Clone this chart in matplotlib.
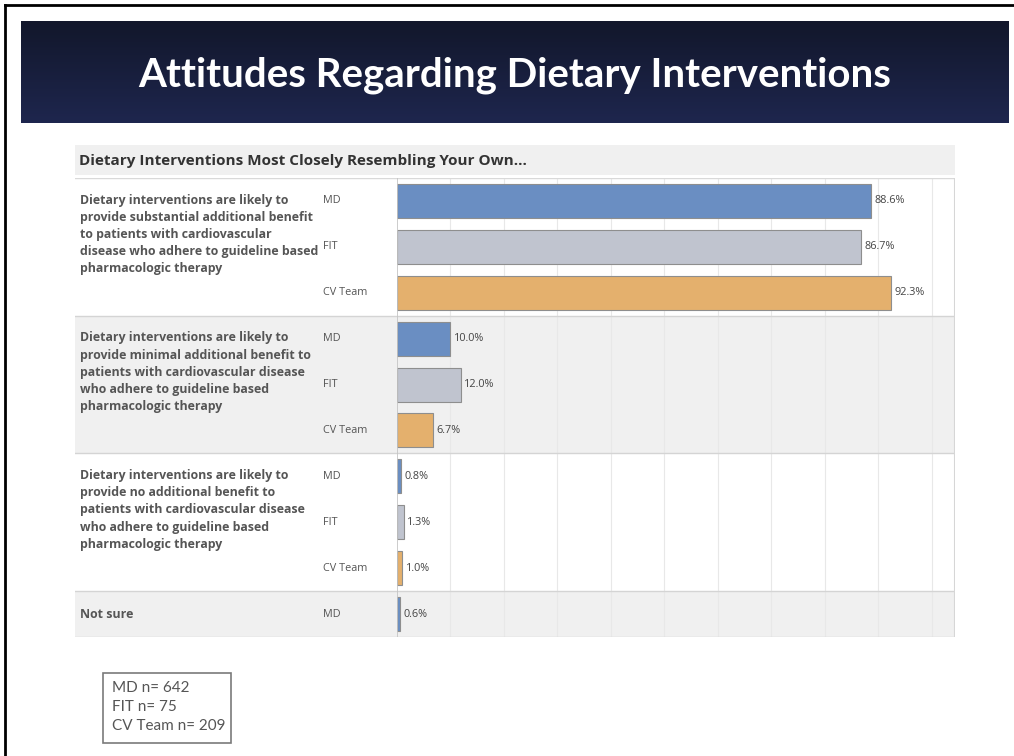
import matplotlib
matplotlib.use("Agg")
import matplotlib.pyplot as plt
import numpy as np
from matplotlib.patches import Rectangle
from matplotlib.lines import Line2D

# ── Data ─────────────────────────────────────────────────────────────────────
questions = [
    "Dietary interventions are likely to\nprovide substantial additional benefit\n"
    "to patients with cardiovascular\ndisease who adhere to guideline based\npharmacologic therapy",
    "Dietary interventions are likely to\nprovide minimal additional benefit to\n"
    "patients with cardiovascular disease\nwho adhere to guideline based\npharmacologic therapy",
    "Dietary interventions are likely to\nprovide no additional benefit to\n"
    "patients with cardiovascular disease\nwho adhere to guideline based\npharmacologic therapy",
    "Not sure",
]
groups = [["MD", "FIT", "CV Team"], ["MD", "FIT", "CV Team"], ["MD", "FIT", "CV Team"], ["MD"]]
values = [[88.6, 86.7, 92.3], [10.0, 12.0, 6.7], [0.8, 1.3, 1.0], [0.6]]
sample_sizes = ["MD n= 642", "FIT n= 75", "CV Team n= 209"]

TITLE = "Attitudes Regarding Dietary Interventions"
SUBTITLE = "Dietary Interventions Most Closely Resembling Your Own..."

COLORS = {"MD": "#6a8ec2", "FIT": "#c0c4cf", "CV Team": "#e4b06d"}
EDGE = "#8e8e8e"
ROW_BG = ["#ffffff", "#f0f0f0"]

# ── Figure helpers (pixel -> figure fraction) ────────────────────────────────
W, H = 1014, 756
fig = plt.figure(figsize=(W / 100, H / 100), dpi=100, facecolor="white")


def fx(px):
    return px / W


def fy(py):
    return 1 - py / H


# slide border
fig.add_artist(Line2D([fx(5), fx(5)], [fy(5), 0], color="black", lw=2))
fig.add_artist(Line2D([fx(5), 1], [fy(5), fy(5)], color="black", lw=2))

# ── Title banner ─────────────────────────────────────────────────────────────
ax_b = fig.add_axes([fx(21), fy(123), fx(1009) - fx(21), fy(21) - fy(123)])
grad = np.linspace(0, 1, 100).reshape(-1, 1)
top = np.array([0x12, 0x17, 0x2b]) / 255
bot = np.array([0x1e, 0x26, 0x4e]) / 255
img = top + (bot - top) * grad[:, :, None]
ax_b.imshow(img, aspect="auto", extent=[0, 1, 0, 1])
ax_b.set_xlim(0, 1)
ax_b.set_ylim(0, 1)
ax_b.axis("off")
ax_b.text(0.5, 0.47, TITLE, color="white", fontsize=29, fontweight="bold",
          family="Lato", ha="center", va="center")

# ── Subtitle band ────────────────────────────────────────────────────────────
fig.add_artist(Rectangle((fx(75), fy(175)), fx(955) - fx(75), fy(145) - fy(175),
                         transform=fig.transFigure, color="#f0f0f0", lw=0))
fig.text(fx(79), fy(161), SUBTITLE, fontsize=11, fontweight="bold",
         color="#333333", family="Open Sans", va="center", ha="left")

# ── Chart axes ───────────────────────────────────────────────────────────────
y_top, y_bot = 178, 637
n_slots = sum(len(g) for g in groups)
ax_l = fig.add_axes([fx(75), fy(y_bot), fx(397) - fx(75), fy(y_top) - fy(y_bot)])
ax_r = fig.add_axes([fx(397), fy(y_bot), fx(955) - fx(397), fy(y_top) - fy(y_bot)])

for ax in (ax_l, ax_r):
    ax.set_ylim(n_slots, 0)
    ax.set_yticks([])
    ax.tick_params(length=0, labelbottom=False)
    for s in ax.spines.values():
        s.set_visible(False)

ax_l.set_xlim(0, 322)
ax_l.set_xticks([])
ax_r.set_xlim(0, 104.3)
ax_r.set_xticks(range(10, 101, 10))
ax_r.grid(axis="x", color="#e8e8e8", lw=0.8, zorder=0.5)
ax_r.set_axisbelow(True)

start = 0
for i, (q, grp, vals) in enumerate(zip(questions, groups, values)):
    end = start + len(grp)
    for ax in (ax_l, ax_r):
        ax.axhspan(start, end, color=ROW_BG[i % 2], zorder=0, lw=0)
        ax.axhline(end, color="#d4d4d4", lw=1, zorder=1)
    if len(grp) > 1:
        ax_l.text(5, start + 0.34, q, fontsize=8.9, fontweight="bold", color="#555555",
                  family="Open Sans", va="top", ha="left", linespacing=1.42)
    else:
        ax_l.text(5, start + 0.5, q, fontsize=8.9, fontweight="bold", color="#555555",
                  family="Open Sans", va="center", ha="left")
    for j, (g, v) in enumerate(zip(grp, vals)):
        yc = start + j + 0.5
        ax_l.text(248, yc, g, fontsize=7.8, color="#555555", family="Open Sans",
                  va="center", ha="left")
        ax_r.barh(yc, v, height=0.74, color=COLORS[g], edgecolor=EDGE, lw=0.8, zorder=2)
        ax_r.text(v + 0.6, yc, f"{v:.1f}%", fontsize=7.8, color="#444444",
                  family="Open Sans", va="center", ha="left", zorder=3)
    start = end

for ax in (ax_l, ax_r):
    ax.axhline(0, color="#d9d9d9", lw=1, zorder=1)
ax_r.axvline(0, color="#c4c4c4", lw=1.2, zorder=3)
ax_r.axvline(104.3, color="#d6d6d6", lw=1.5, zorder=3)

# ── Sample size box ──────────────────────────────────────────────────────────
fig.add_artist(Rectangle((fx(103), fy(743)), fx(231) - fx(103), fy(673) - fy(743),
                         transform=fig.transFigure, facecolor="white",
                         edgecolor="#7a7a7a", lw=1.2))
for k, s in enumerate(sample_sizes):
    fig.text(fx(112), fy(688 + 19 * k), s, fontsize=11, color="#555555",
             family="Lato", va="center", ha="left")

plt.savefig("out.png", dpi=100, facecolor="white")
